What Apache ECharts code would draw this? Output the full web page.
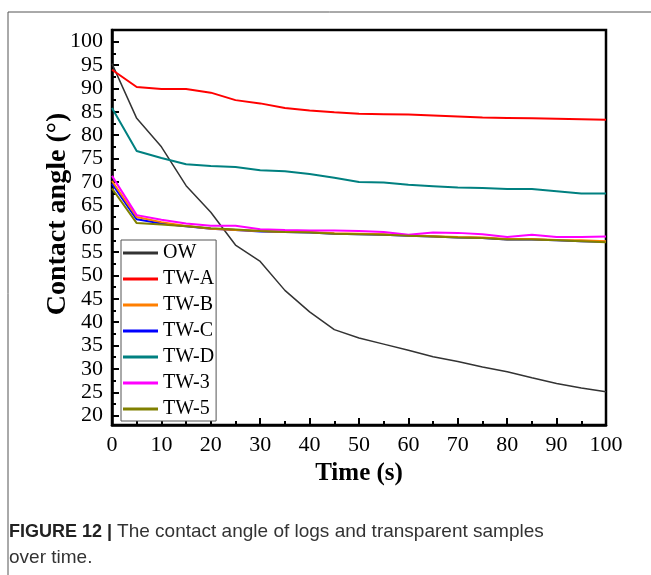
<!DOCTYPE html>
<html>
<head>
<meta charset="utf-8">
<script src="https://cdn.jsdelivr.net/npm/echarts@6/dist/echarts.min.js"></script>
<style>
  html, body { margin: 0; padding: 0; background: #fff; }
  #main { width: 651px; height: 575px; }
</style>
</head>
<body>
<div id="main"></div>
<script>
// time points (s)
var timeList = [0,5,10,15,20,25,30,35,40,45,50,55,60,65,70,75,80,85,90,95,100];
// contact angle (deg)
var owData  = [95.3,83.6,77.5,69.2,63.5,56.5,53.0,46.8,42.2,38.4,36.6,35.3,34.0,32.6,31.6,30.4,29.4,28.1,26.9,25.9,25.1];
var twAData = [94.0,90.3,89.9,89.9,89.1,87.5,86.8,85.8,85.3,84.9,84.6,84.5,84.4,84.2,84.0,83.8,83.7,83.6,83.5,83.4,83.3];
var twBData = [70.2,62.5,61.4,60.6,60.0,59.7,59.5,59.3,59.3,59.0,58.9,58.8,58.6,58.4,58.2,58.1,57.8,57.8,57.6,57.5,57.3];
var twCData = [69.6,62.0,61.1,60.5,60.0,59.7,59.4,59.3,59.2,58.9,58.8,58.7,58.5,58.3,58.1,58.0,57.7,57.7,57.5,57.3,57.2];
var twDData = [85.8,76.6,75.1,73.8,73.4,73.2,72.5,72.3,71.7,70.9,70.0,69.9,69.4,69.1,68.8,68.7,68.5,68.5,68.0,67.5,67.5];
var tw3Data = [71.3,62.9,61.9,61.1,60.6,60.6,59.9,59.7,59.6,59.6,59.5,59.3,58.7,59.2,59.1,58.8,58.2,58.7,58.2,58.2,58.3];
var tw5Data = [68.6,61.2,60.9,60.5,60.1,59.8,59.5,59.3,59.2,58.9,58.8,58.7,58.5,58.3,58.1,58.0,57.7,57.7,57.5,57.3,57.1];

var names  = ['OW','TW-A','TW-B','TW-C','TW-D','TW-3','TW-5'];
var colors = ['#333333','#ff0000','#ff7f00','#0000ff','#008080','#ff00ff','#808000'];
var dataList = [owData, twAData, twBData, twCData, twDData, tw3Data, tw5Data];

var yMajor = [20,25,30,35,40,45,50,55,60,65,70,75,80,85,90,95,100];
var yMinor = [22.5,27.5,32.5,37.5,42.5,47.5,52.5,57.5,62.5,67.5,72.5,77.5,82.5,87.5,92.5,97.5];

var serif = 'Liberation Serif';

function pairs(arr) {
  return arr.map(function (v, i) { return [timeList[i], v]; });
}

var series = names.map(function (n, i) {
  return {
    name: n,
    type: 'line',
    data: pairs(dataList[i]),
    symbol: 'none',
    z: n === 'TW-C' ? 1 : 2,
    lineStyle: { color: colors[i], width: n === 'OW' ? 1.5 : 2 },
    itemStyle: { color: colors[i] }
  };
});

var option = {
  backgroundColor: '#fff',
  animation: false,
  grid: {
    left: 112, top: 30, width: 494, height: 395,
    show: true, borderColor: '#000', borderWidth: 2.5
  },
  legend: {
    orient: 'vertical',
    left: 121, top: 240,
    padding: [3, 2, 2, 2],
    icon: 'rect',
    itemWidth: 35, itemHeight: 3, itemGap: 6,
    borderColor: '#555', borderWidth: 1, backgroundColor: '#fff',
    textStyle: { fontFamily: serif, fontSize: 20, color: '#000', lineHeight: 20 },
    data: names
  },
  xAxis: {
    type: 'value', min: 0, max: 100, interval: 10,
    name: 'Time (s)', nameLocation: 'middle', nameGap: 32,
    nameTextStyle: { fontFamily: serif, fontSize: 25, fontWeight: 'bold', color: '#000' },
    axisLine: { lineStyle: { color: '#000', width: 2.5 } },
    axisTick: { inside: true, length: 7, lineStyle: { color: '#000', width: 2 } },
    minorTick: { show: true, splitNumber: 2, length: 4, lineStyle: { color: '#000', width: 2 } },
    axisLabel: { fontFamily: serif, fontSize: 22, color: '#000', margin: 9 },
    splitLine: { show: false }
  },
  yAxis: [{
    type: 'value', min: 18, max: 102.5,
    axisLine: { show: true, lineStyle: { color: '#000', width: 2.5 } },
    axisTick: { inside: true, length: 7, customValues: yMajor, lineStyle: { color: '#000', width: 2 } },
    axisLabel: { fontFamily: serif, fontSize: 22, color: '#000', margin: 9, customValues: yMajor },
    splitLine: { show: false }
  }, {
    type: 'value', min: 18, max: 102.5, position: 'left',
    axisLine: { show: false },
    axisTick: { show: true, inside: true, length: 4, customValues: yMinor, lineStyle: { color: '#000', width: 2 } },
    axisLabel: { show: false },
    splitLine: { show: false }
  }],
  graphic: [
    { type: 'line', shape: { x1: 8, y1: 12, x2: 651, y2: 12 }, style: { stroke: '#555', lineWidth: 1 } },
    { type: 'line', shape: { x1: 8, y1: 12, x2: 8, y2: 575 }, style: { stroke: '#555', lineWidth: 1 } },
    // y axis title
    {
      type: 'text', x: 58, y: 214, rotation: Math.PI / 2,
      style: {
        text: 'Contact angle (°)', fontFamily: serif, fontSize: 28, fontWeight: 'bold',
        fill: '#000', textAlign: 'center', textVerticalAlign: 'middle'
      }
    },
    {
      type: 'text', left: 9, top: 519,
      style: {
        text: '{b|FIGURE 12 | }The contact angle of logs and transparent samples\nover time.',
        font: '19px "Liberation Sans"', fill: '#333', lineHeight: 26,
        rich: { b: { fontWeight: 'bold', fontSize: 18, fontFamily: 'Liberation Sans', fill: '#222' } }
      }
    }
  ],
  series: series
};

var myChart = echarts.init(document.getElementById('main'));
myChart.setOption(option);
</script>
</body>
</html>
